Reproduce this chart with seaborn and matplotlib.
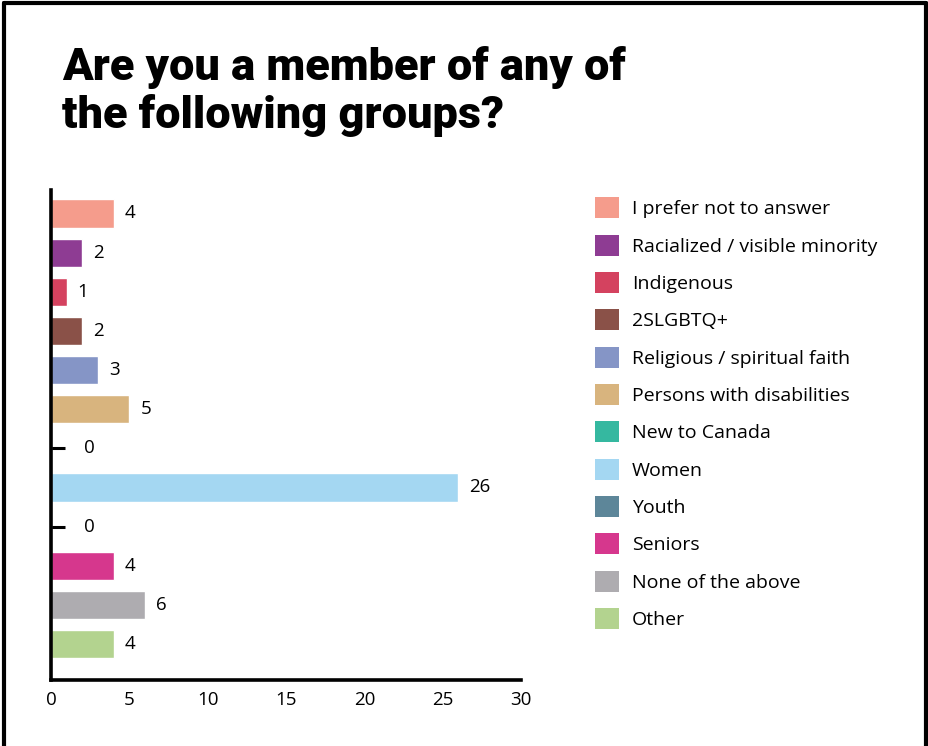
import matplotlib
matplotlib.use("Agg")
import matplotlib.pyplot as plt
from matplotlib.patches import Patch
from matplotlib.lines import Line2D
import seaborn as sns

# 데이터
groups = [
    "I prefer not to answer",
    "Racialized / visible minority",
    "Indigenous",
    "2SLGBTQ+",
    "Religious / spiritual faith",
    "Persons with disabilities",
    "New to Canada",
    "Women",
    "Youth",
    "Seniors",
    "None of the above",
    "Other",
]
counts = [4, 2, 1, 2, 3, 5, 0, 26, 0, 4, 6, 4]
colors = [
    "#F59C8C", "#8E3C93", "#D4425F", "#8A5148", "#8595C6", "#D8B47E",
    "#35B8A0", "#A4D7F2", "#5D8699", "#D6378D", "#AEACB0", "#B3D38F",
]
x_ticks = [0, 5, 10, 15, 20, 25, 30]

sns.set_style("white")
plt.rcParams["font.family"] = ["Open Sans", "DejaVu Sans"]
plt.rcParams["text.color"] = "black"

fig = plt.figure(figsize=(9.29, 7.46), dpi=100)
ax = fig.add_axes([0.0549, 0.0885, 0.5059, 0.6568])

sns.barplot(x=counts, y=groups, hue=groups, palette=colors, orient="h",
            width=0.72, legend=False, saturation=1, ax=ax)

ax.set_xlim(0, 30)
ax.set_ylim(len(groups) - 0.08, -0.6)
ax.set_xticks(x_ticks)
ax.set_axisbelow(True)
ax.set_yticks(range(len(groups)))
ax.set_yticklabels([])
ax.set_xlabel("")
ax.set_ylabel("")
ax.tick_params(axis="x", direction="in", length=10, width=2.2, labelsize=13.5,
               pad=8, colors="black")
ax.tick_params(axis="y", direction="in", length=10, width=2.2, left=True,
               colors="black")
for s in ["top", "right"]:
    ax.spines[s].set_visible(False)
for s in ["left", "bottom"]:
    ax.spines[s].set_linewidth(2.6)
    ax.spines[s].set_color("black")

# 값 라벨
for i, v in enumerate(counts):
    pad = 24 if v == 0 else 8
    ax.annotate(str(v), (v, i), xytext=(pad, 0), textcoords="offset points",
                va="center", ha="left", fontsize=13.5, color="black")

# 범례
handles = [Patch(facecolor=c, edgecolor="none") for c in colors]
fig.legend(handles, groups, loc="upper left", bbox_to_anchor=(0.632, 0.746),
           frameon=False, fontsize=14, handlelength=1.25, handleheight=1.3,
           handletextpad=0.65, labelspacing=0.83, borderaxespad=0,
           labelcolor="black")

# 제목
fig.text(0.067, 0.938, "Are you a member of any of\nthe following groups?",
         fontsize=32.5, fontweight="black", family=["Roboto", "DejaVu Sans"],
         va="top", ha="left", linespacing=1.14, color="black")

# 외곽 테두리
for xs, ys in [([0.004, 0.004], [0, 0.996]), ([0.004, 0.997], [0.996, 0.996]),
               ([0.997, 0.997], [0, 0.996])]:
    fig.add_artist(Line2D(xs, ys, color="black", linewidth=3,
                          transform=fig.transFigure))

fig.savefig("out.png", dpi=100, facecolor="white")
